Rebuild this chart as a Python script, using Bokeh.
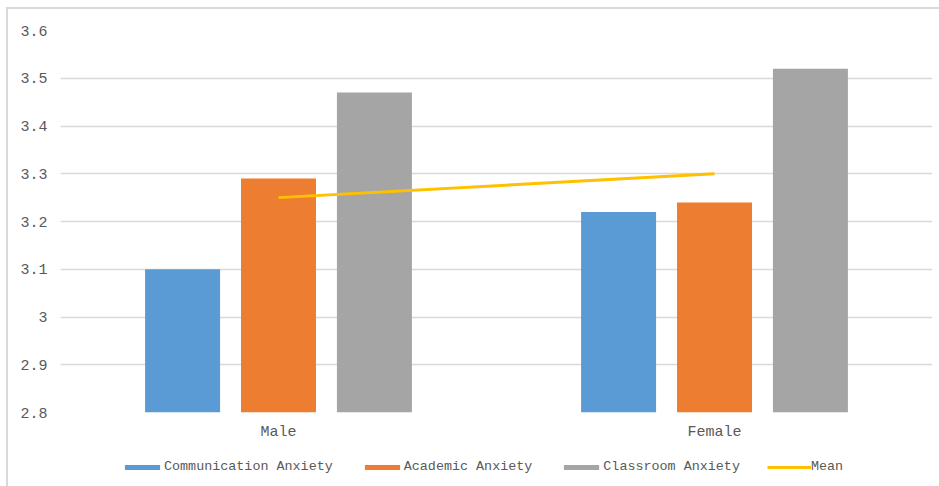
from bokeh.plotting import figure
from bokeh.layouts import column
from bokeh.models import (ColumnDataSource, FactorRange, Range1d, FixedTicker,
                          CustomJSTickFormatter, Legend, LegendItem)
from bokeh.transform import dodge
from bokeh.embed import file_html
from bokeh.resources import INLINE

# Data
groups = ["Male", "Female"]
communication = [3.10, 3.22]
academic = [3.29, 3.24]
classroom = [3.47, 3.52]
mean = [3.25, 3.30]
y_ticks = [2.8, 2.9, 3.0, 3.1, 3.2, 3.3, 3.4, 3.5, 3.6]

series_names = ["Communication Anxiety", "Academic Anxiety", "Classroom Anxiety", "Mean"]
series_colors = ["#5B9BD5", "#ED7D31", "#A5A5A5", "#FFC000"]

FONT = "Liberation Mono"
TEXT = "#595959"
WIDTH = 931
BAR_W = 0.172
OFFSETS = [-0.22, 0.0, 0.22]
BAR_FIELDS = ["communication", "academic", "classroom"]

source = ColumnDataSource(data=dict(
    group=groups, communication=communication, academic=academic,
    classroom=classroom, mean=mean,
))


def draw_series(fig):
    """Draw the three bar series and the mean line on a figure; return the renderers."""
    rs = []
    for field, off, color in zip(BAR_FIELDS, OFFSETS, series_colors):
        rs.append(fig.vbar(x=dodge("group", off, range=fig.x_range), top=field, bottom=2.8,
                           width=BAR_W, source=source, fill_color=color, line_color=None))
    rs.append(fig.line(x="group", y="mean", source=source,
                       line_color=series_colors[3], line_width=3))
    return rs


# Main chart
p = figure(
    width=WIDTH, height=445,
    x_range=FactorRange(factors=groups, range_padding=0),
    y_range=Range1d(2.8, 3.6),
    output_backend="svg", toolbar_location=None,
    min_border_left=52, min_border_right=7, min_border_top=21, min_border_bottom=42,
)
p.outline_line_color = None
p.background_fill_color = "white"
p.border_fill_color = "white"
draw_series(p)

p.xgrid.visible = False
p.ygrid.grid_line_color = "#d9d9d9"
p.ygrid.grid_line_width = 1.5

p.yaxis.ticker = FixedTicker(ticks=y_ticks)
p.yaxis.formatter = CustomJSTickFormatter(code="return tick.toFixed(1).replace(/\\.0$/, '');")
for ax in (p.xaxis[0], p.yaxis[0]):
    ax.axis_line_color = None
    ax.major_tick_line_color = None
    ax.minor_tick_line_color = None
    ax.major_label_text_font = FONT
    ax.major_label_text_font_size = "15px"
    ax.major_label_text_color = TEXT
p.yaxis.major_label_standoff = 7
p.xaxis.major_label_standoff = 5

# Legend strip underneath the chart; its own copies of the series lie far
# below its y-range, so only the legend swatches show.
lg = figure(
    width=WIDTH, height=32, x_axis_type=None, y_axis_type=None,
    x_range=FactorRange(factors=groups, range_padding=0), y_range=Range1d(10, 11),
    output_backend="svg", toolbar_location=None,
    min_border=0,
)
lg.outline_line_color = None
lg.xgrid.visible = False
lg.ygrid.visible = False
lg.border_fill_color = "white"
swatches = draw_series(lg)

legend = Legend(
    items=[LegendItem(label=n, renderers=[r]) for n, r in zip(series_names, swatches)],
    orientation="horizontal", location=(60, 12),
    label_text_font=FONT, label_text_font_size="13.4px", label_text_color=TEXT,
    glyph_width=44, glyph_height=6, label_standoff=0, spacing=27,
    border_line_color=None, background_fill_alpha=0, padding=0,
    margin=0, label_height=14,
)
lg.add_layout(legend)

page = column(p, lg, spacing=0, styles={
    "border-top": "2px solid #d9d9d9",
    "border-left": "2px solid #d9d9d9",
    "margin-left": "6px",
    "margin-top": "7px",
})

open("out.html", "w").write(file_html(page, INLINE))
